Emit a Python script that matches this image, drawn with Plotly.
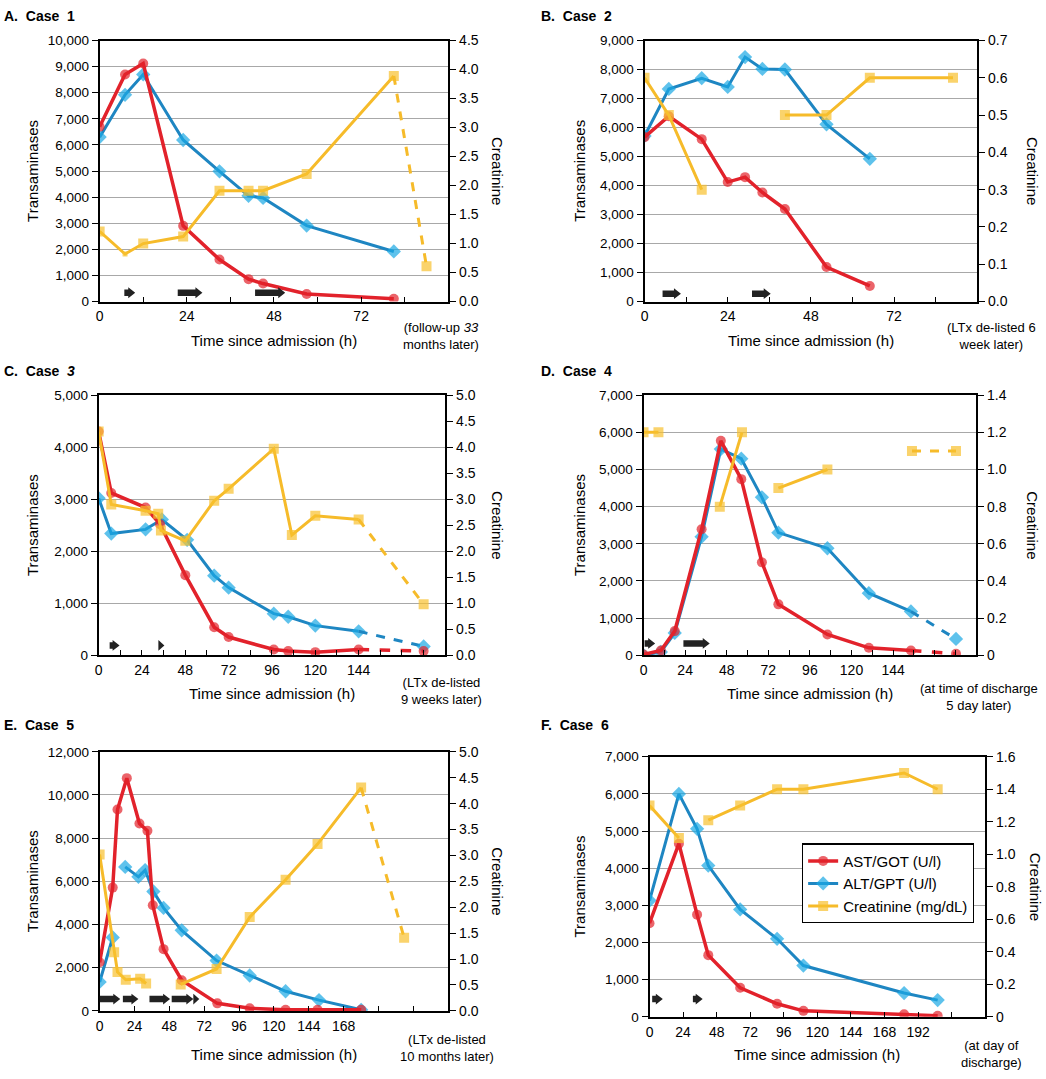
import plotly.graph_objects as go

W, H = 1046, 1079

# ---------------- data ----------------
# Case 1
A_time = [0, 7, 12, 23, 33, 41, 45, 57, 81]
A_ast = [6700, 8700, 9120, 2900, 1610, 860, 690, 290, 110]
A_alt = [6300, 7920, 8700, 6190, 4990, 4050, 3970, 2910, 1920]
A_cre_time = [0, 7, 12, 23, 33, 41, 45, 57, 81]
A_cre = [1.21, 0.82, 1.00, 1.12, 1.91, 1.91, 1.91, 2.20, 3.89]
A_cre_tail = (90, 0.61)
A_arrows = [(6.8, 9.8), (21.5, 28.3), (42.8, 51.1)]

# Case 2
B_time = [0, 7, 16.5, 24, 29, 34, 40.5, 52.5, 65]
B_ast = [5670, 6390, 5600, 4120, 4290, 3760, 3190, 1190, 540]
B_alt = [5710, 7330, 7700, 7400, 8430, 8020, 8000, 6110, 4920]
B_cre_time = [0, 7, 16.5, None, 40.5, 52.5, 65, 89]
B_cre = [0.60, 0.50, 0.30, None, 0.50, 0.50, 0.60, 0.60]
B_arrows = [(5.2, 10.5), (31.0, 36.4)]

# Case 3
C_ast_time = [0, 7, 26, 34, 48, 64, 72, 97, 105, 120, 144]
C_ast = [4300, 3120, 2840, 2520, 1540, 540, 350, 110, 80, 60, 110]
C_ast_tail = (180, 80)
C_alt_time = [0, 7, 26, 35, 49, 64, 72, 97, 105, 120, 144]
C_alt = [3020, 2340, 2420, 2610, 2220, 1530, 1300, 800, 740, 570, 460]
C_alt_tail = (180, 170)
C_cre_time = [0, 7, 26, 33, 34.5, 48, 64, 72, 97, 107, 120, 144]
C_cre = [4.30, 2.90, 2.78, 2.72, 2.40, 2.20, 2.97, 3.20, 3.97, 2.31, 2.68, 2.61]
C_cre_tail = (180, 0.98)
C_arrows = [(6.1, 11.6), (33.1, 36.4)]

# Case 4
D_time = [0, 10, 18, 33.5, 44.6, 56.4, 68.3, 77.8, 106.1, 130, 154.3]
D_ast = [20, 130, 650, 3390, 5770, 4740, 2500, 1370, 560, 200, 130]
D_ast_tail = (180.3, 40)
D_alt = [0, 90, 600, 3190, 5550, 5290, 4250, 3300, 2880, 1670, 1180]
D_alt_tail = (180.3, 440)
D_cre_time = [0, 8.6, None, 44, 56.8, None, 77.8, 106.1, None, 154.9]
D_cre = [1.20, 1.20, None, 0.80, 1.20, None, 0.90, 1.00, None, 1.10]
D_cre_tail = (180.3, 1.10)
D_arrows = [(0.6, 6.7), (23.0, 38.2)]

# Case 5
E_ast_time = [0, 9, 12.3, 18.7, 27.4, 32.9, 36.6, 44, 56.5, 81, 103.3, 128, 150, 180]
E_ast = [2250, 5710, 9330, 10780, 8680, 8340, 4890, 2860, 1420, 350, 120, 50, 50, 50]
E_alt_time = [0, 9, None, 17.6, 26.7, 31.3, 37, 44, 56.5, 80.5, 103.3, 128, 151, 180]
E_alt = [1340, 3400, None, 6670, 6210, 6520, 5530, 4770, 3730, 2330, 1640, 910, 500, 50]
E_cre_time = [0, 10, 12.3, 18, 27.9, 32, None, 55.8, 80.5, 103.3, 128, 150, 180]
E_cre = [3.02, 1.13, 0.75, 0.60, 0.62, 0.53, None, 0.51, 0.81, 1.81, 2.53, 3.22, 4.31]
E_cre_tail = (209.6, 1.41)
E_arrows = [(0, 14.2), (16.0, 26.7), (34.3, 48.5), (49.6, 64.5), (64.5, 68.6)]

# Case 6
F_time = [0, 21, 34, 42, 64.8, 91.2, 110, 182, 206]
F_ast = [2520, 4660, 2750, 1660, 780, 350, 160, 70, 30]
F_alt = [3130, 6000, 5060, 4070, 2890, 2100, 1380, 640, 450]
F_cre_time = [0, 21, None, 42, 64.8, 91.2, 110, 182, 206]
F_cre = [1.30, 1.10, None, 1.21, 1.30, 1.40, 1.40, 1.50, 1.40]
F_arrows = [(1.9, 9.5), (31.0, 38.0)]

# axis tick labels
A_xlabels = [0, 24, 48, 72]
B_xlabels = [0, 24, 48, 72]
C_xlabels = [0, 24, 48, 72, 96, 120, 144]
D_xlabels = [0, 24, 48, 72, 96, 120, 144]
E_xlabels = [0, 24, 48, 72, 96, 120, 144, 168]
F_xlabels = [0, 24, 48, 72, 96, 120, 144, 168, 192]

titles = ["A.\u00a0\u00a0Case\u00a0\u00a01", "B.\u00a0\u00a0Case\u00a0\u00a02",
          "C.\u00a0\u00a0Case\u00a0\u00a0<i>3</i>", "D.\u00a0\u00a0Case\u00a0\u00a04",
          "E.\u00a0\u00a0Case\u00a0\u00a05", "F.\u00a0\u00a0Case\u00a0\u00a06"]
notes = ["(follow-up <i>33</i><br>months later)", "(LTx de-listed 6<br>week later)",
         "(LTx de-listed<br>9 weeks later)", "(at time of discharge<br>5 day later)",
         "(LTx de-listed<br>10 months later)", "(at day of<br>discharge)"]
series_names = ["AST/GOT (U/l)", "ALT/GPT (U/l)", "Creatinine (mg/dL)"]

# ---------------- styling / layout ----------------
FONT = "Liberation Sans, Arial, sans-serif"
BOLD = "Liberation Sans, Arial, sans-serif"
RED = "#E2222B"
BLUE_LINE = "#1E86C2"
BLUE_MK = "#1AA8E4"
YEL = "#F6BB2A"
YEL_MK = "#F8C12D"
GRID = "#A8A8A8"
TICK_SIZE = 14
TITLE_SIZE = 15

panels = [
    dict(box=(96, 446, 33, 298), xmax=96, xdt=12, xlab=A_xlabels, yl=10000, yldt=1000, yr=4.5, yrdt=0.5, rzero=False,
         ast=(A_time, A_ast, None), alt=(A_time, A_alt, None), cre=(A_cre_time, A_cre, A_cre_tail),
         arrows=A_arrows, alev=9, title_xy=(-2, 8), note_xy=(439, 333), ytl_x=28, ytr_x=496, xt_y=337),
    dict(box=(643, 977, 33, 298), xmax=96, xdt=12, xlab=B_xlabels, yl=9000, yldt=1000, yr=0.7, yrdt=0.1, rzero=False,
         ast=(B_time, B_ast, None), alt=(B_time, B_alt, None), cre=(B_cre_time, B_cre, None),
         arrows=B_arrows, alev=8, title_xy=(537, 8), note_xy=(991, 333), ytl_x=577, ytr_x=1033, xt_y=337),
    dict(box=(95, 443, 393, 657), xmax=192, xdt=12, xlab=C_xlabels, yl=5000, yldt=1000, yr=5.0, yrdt=0.5, rzero=False,
         ast=(C_ast_time, C_ast, C_ast_tail), alt=(C_alt_time, C_alt, C_alt_tail), cre=(C_cre_time, C_cre, C_cre_tail),
         arrows=C_arrows, alev=10, title_xy=(-2, 368), note_xy=(439, 693), ytl_x=28, ytr_x=496, xt_y=696),
    dict(box=(642, 976, 393, 657), xmax=192, xdt=12, xlab=D_xlabels, yl=7000, yldt=1000, yr=1.4, yrdt=0.2, rzero=True,
         ast=(D_time, D_ast, D_ast_tail), alt=(D_time, D_alt, D_alt_tail), cre=(D_cre_time, D_cre, D_cre_tail),
         arrows=D_arrows, alev=12, title_xy=(537, 368), note_xy=(979, 699), ytl_x=577, ytr_x=1033, xt_y=696),
    dict(box=(96, 446, 755, 1018), xmax=240, xdt=24, xlab=E_xlabels, yl=12000, yldt=2000, yr=5.0, yrdt=0.5, rzero=False,
         ast=(E_ast_time, E_ast, None), alt=(E_alt_time, E_alt, None), cre=(E_cre_time, E_cre, E_cre_tail),
         arrows=E_arrows, alev=12, title_xy=(-2, 728), note_xy=(445, 1056), ytl_x=28, ytr_x=496, xt_y=1062),
    dict(box=(648, 985, 760, 1024), xmax=240, xdt=24, xlab=F_xlabels, yl=7000, yldt=1000, yr=1.6, yrdt=0.2, rzero=True,
         ast=(F_time, F_ast, None), alt=(F_time, F_alt, None), cre=(F_cre_time, F_cre, None),
         arrows=F_arrows, alev=18, title_xy=(537, 728), note_xy=(991, 1062), ytl_x=578, ytr_x=1035, xt_y=1062),
]


def px(x):
    return x / W


def py(y):
    return 1 - y / H


fig = go.Figure()
layout = {}
annotations = []
shapes = []

for i, p in enumerate(panels):
    k = i + 1
    xid = "x" if k == 1 else f"x{k}"
    ylid = "y" if k == 1 else f"y{k}"
    yrid = f"y{k + 6}"
    x0, x1, ytop, ybot = p["box"]
    legend_panel = (k == 6)

    # ---- traces: blue first, red above it, creatinine on overlay axis ----
    def add(t, v, tail, color, mcolor, symbol, msize, lw, name, rank, yax):
        sizes = [msize] * len(t)
        if k == 1 and yax == yrid:
            sizes[1] = 5
        fig.add_trace(go.Scatter(
            x=t, y=v, mode="lines+markers", name=name, legendrank=rank,
            showlegend=legend_panel, xaxis=xid, yaxis=yax,
            line=dict(color=color, width=lw),
            marker=dict(color=mcolor, symbol=symbol, size=sizes, line=dict(width=0)),
            connectgaps=False, hoverinfo="skip"))
        if tail is not None:
            lt = [tt for tt in t if tt is not None][-1]
            lv = [vv for vv in v if vv is not None][-1]
            fig.add_trace(go.Scatter(
                x=[lt, tail[0]], y=[lv, tail[1]], mode="lines+markers", showlegend=False,
                xaxis=xid, yaxis=yax, line=dict(color=color, width=lw, dash="dash"),
                marker=dict(color=mcolor, symbol=symbol, size=[0, msize], line=dict(width=0)),
                hoverinfo="skip"))

    t, v, tail = p["alt"]
    add(t, v, tail, BLUE_LINE, BLUE_MK, "diamond", 11, 3, series_names[1], 2, ylid)
    t, v, tail = p["ast"]
    add(t, v, tail, RED, RED, "circle", 10, 3.5, series_names[0], 1, ylid)
    t, v, tail = p["cre"]
    add(t, v, tail, YEL, YEL_MK, "square", 10, 3, series_names[2], 3, yrid)

    # ---- axes ----
    tickvals = list(range(0, p["xmax"] + 1, p["xdt"]))
    ticktext = [str(tv) if tv in p["xlab"] else "" for tv in tickvals]
    xkey = "xaxis" if k == 1 else f"xaxis{k}"
    layout[xkey] = dict(
        domain=[px(x0), px(x1)], anchor=ylid, range=[0, p["xmax"]],
        tickmode="array", tickvals=tickvals, ticktext=ticktext,
        ticks="inside", ticklen=5, tickwidth=1.2, tickcolor="black",
        showline=True, linecolor="black", linewidth=2, mirror=True,
        showgrid=False, zeroline=False, ticklabelstandoff=1,
        tickfont=dict(family=FONT, size=TICK_SIZE, color="black"))
    ylkey = "yaxis" if k == 1 else f"yaxis{k}"
    layout[ylkey] = dict(
        domain=[py(ybot), py(ytop)], anchor=xid, range=[0, p["yl"]],
        tickmode="linear", tick0=0, dtick=p["yldt"], tickformat=",d",
        ticks="outside", ticklen=6, tickwidth=1.2, tickcolor="black",
        showline=True, linecolor="black", linewidth=2,
        showgrid=True, gridcolor=GRID, gridwidth=1.4, zeroline=False,
        tickfont=dict(family=FONT, size=TICK_SIZE - 0.5, color="black"))
    nr = int(round(p["yr"] / p["yrdt"]))
    rvals = [round(j * p["yrdt"], 2) for j in range(nr + 1)]
    rtext = ["0" if (j == 0 and p["rzero"]) else f"{val:.1f}" for j, val in enumerate(rvals)]
    layout[f"yaxis{k + 6}"] = dict(
        overlaying=ylid, side="right", anchor=xid, range=[0, p["yr"]],
        tickmode="array", tickvals=rvals, ticktext=rtext,
        ticks="outside", ticklen=6, tickwidth=1.2, tickcolor="black",
        showline=True, linecolor="black", linewidth=2,
        showgrid=False, zeroline=False,
        tickfont=dict(family=FONT, size=TICK_SIZE, color="black"))

    # ---- text ----
    annotations.append(dict(text=f"<b>{titles[i]}</b>", xref="paper", yref="paper",
                            x=px(p["title_xy"][0]), y=py(p["title_xy"][1]), xanchor="left", yanchor="middle",
                            showarrow=False, font=dict(family=BOLD, size=14, color="black")))
    annotations.append(dict(text="Transaminases", xref="paper", yref="paper", textangle=-90,
                            x=px(p["ytl_x"]), y=py((ytop + ybot) / 2), xanchor="center", yanchor="middle",
                            showarrow=False, font=dict(family=FONT, size=TITLE_SIZE, color="black")))
    annotations.append(dict(text="Creatinine", xref="paper", yref="paper", textangle=90,
                            x=px(p["ytr_x"]), y=py((ytop + ybot) / 2), xanchor="center", yanchor="middle",
                            showarrow=False, font=dict(family=FONT, size=TITLE_SIZE, color="black")))
    annotations.append(dict(text="Time since admission (h)", xref="paper", yref="paper",
                            x=px((x0 + x1) / 2), y=py(p["xt_y"]), xanchor="center", yanchor="middle",
                            showarrow=False, font=dict(family=FONT, size=TITLE_SIZE, color="black")))
    annotations.append(dict(text=notes[i], xref="paper", yref="paper",
                            x=px(p["note_xy"][0]), y=py(p["note_xy"][1]), xanchor="center", yanchor="middle",
                            showarrow=False, align="center",
                            font=dict(family=FONT, size=13, color="black")))

    # ---- black block arrows (treatment intervals) ----
    hpx = ybot - ytop
    pph = (x1 - x0) / p["xmax"]
    yc = p["alev"] / hpx
    bh = 3.3 / hpx
    hh = 5.5 / hpx
    for (a0, a1) in p["arrows"]:
        hl = min(7.0 / pph, (a1 - a0))
        th = a1 - hl
        path = (f"M {a0},{yc - bh} L {th},{yc - bh} L {th},{yc - hh} L {a1},{yc} "
                f"L {th},{yc + hh} L {th},{yc + bh} L {a0},{yc + bh} Z")
        shapes.append(dict(type="path", path=path, xref=xid, yref=f"{ylid} domain",
                           fillcolor="#222222", line=dict(width=0), layer="above"))

fig.update_layout(
    width=W, height=H, margin=dict(l=0, r=0, t=0, b=0),
    paper_bgcolor="white", plot_bgcolor="white",
    font=dict(family=FONT, size=14, color="black"),
    annotations=annotations, shapes=shapes,
    legend=dict(x=px(801), y=py(848), xanchor="left", yanchor="top",
                bgcolor="white", bordercolor="black", borderwidth=1.2,
                font=dict(family=FONT, size=15, color="black"),
                tracegroupgap=0, itemwidth=30),
    **layout)

fig.write_html("out.html", config={"displayModeBar": False},
               post_script="document.body.style.margin='0';")
